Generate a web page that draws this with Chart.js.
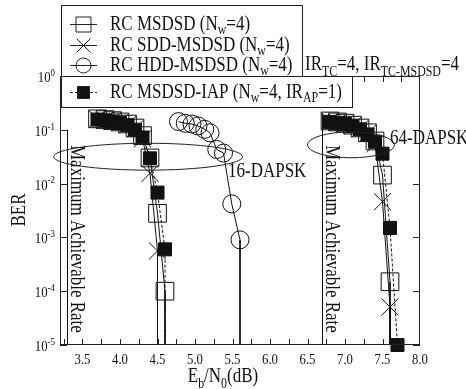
<!DOCTYPE html>
<html>
<head>
<meta charset="utf-8">
<script src="https://cdn.jsdelivr.net/npm/chart.js@4.4.1/dist/chart.umd.min.js"></script>
<style>
  html, body { margin: 0; padding: 0; background: #fff; }
  #wrap { width: 466px; height: 389px; }
</style>
</head>
<body>
<div id="wrap"><canvas id="berChart" width="466" height="389"></canvas></div>
<script>
// --- data ---
// 16-DAPSK
var ebn0_16      = [3.7, 3.8, 3.9, 4.0, 4.1, 4.2, 4.3, 4.4, 4.5, 4.6];
var ber_msdsd_16 = [0.16, 0.155, 0.148, 0.14, 0.128, 0.108, 0.078, 0.030, 0.0028, 0.0001];
var ebn0_sdd_16  = [3.7, 3.8, 3.9, 4.0, 4.1, 4.2, 4.3, 4.4, 4.5];
var ber_sdd_16   = [0.158, 0.152, 0.146, 0.137, 0.125, 0.105, 0.068, 0.0155, 0.00056];
var ber_iap_16   = [0.155, 0.15, 0.143, 0.135, 0.122, 0.10, 0.072, 0.0295, 0.0068, 0.0006];
var ebn0_hdd_16  = [4.78, 4.87, 4.96, 5.04, 5.13, 5.2, 5.29, 5.38, 5.49, 5.6];
var ber_hdd_16   = [0.142, 0.132, 0.128, 0.118, 0.102, 0.088, 0.043, 0.037, 0.0042, 0.0009];
// 64-DAPSK
var ebn0_64      = [6.8, 6.9, 7.0, 7.1, 7.2, 7.3, 7.4, 7.5, 7.6];
var ber_msdsd_64 = [0.146, 0.14, 0.133, 0.122, 0.108, 0.088, 0.062, 0.0144, 0.00015];
var ber_sdd_64   = [0.143, 0.137, 0.13, 0.119, 0.105, 0.085, 0.055, 0.0046, 0.000051];
var ebn0_iap_64  = [6.8, 6.9, 7.0, 7.1, 7.2, 7.3, 7.4, 7.5, 7.6, 7.7];
var ber_iap_64   = [0.14, 0.135, 0.128, 0.117, 0.102, 0.082, 0.06, 0.036, 0.0015, 0.00001];
// BER below the plotted floor (error free) -> curve falls straight down
var ERROR_FREE = 1e-7;
// maximum achievable rate limits
var maxRateEbn0 = [3.3, 6.7];
var maxRateTop  = [0.1, 0.2];
// axis ticks
var xTickLabels = ['3.5', '4.0', '4.5', '5.0', '5.5', '6.0', '6.5', '7.0', '7.5', '8.0'];
var yTickExps   = [0, -1, -2, -3, -4, -5];

var FONT = '"Liberation Serif", "Times New Roman", serif';
var SX = 0.85; // the original text is a bit narrow

function pts(xs, ys, errorFree) {
  var out = xs.map(function(x, i) { return { x: x, y: ys[i] }; });
  if (errorFree) out.push({ x: xs[xs.length - 1], y: ERROR_FREE });
  return out;
}

function ds(data, style, extra) {
  var base = {
    data: data,
    showLine: true,
    borderColor: '#111',
    borderWidth: 1,
    pointBorderColor: '#111',
    pointBorderWidth: 1,
    pointStyle: style.shape,
    pointRadius: function(c) { return c.raw && c.raw.y < 1e-5 * 0.99 ? 0 : style.r; },
    pointBackgroundColor: style.fill ? '#111' : 'rgba(0,0,0,0)',
    borderDash: style.dash || []
  };
  return Object.assign(base, extra || {});
}

var sq = { shape: 'rect', r: 12.5, fill: false };
var cr = { shape: 'crossRot', r: 12, fill: false };
var ci = { shape: 'circle', r: 9, fill: false };
var fs = { shape: 'rect', r: 9.2, fill: true, dash: [3, 2] };

var datasets = [
  ds(pts(ebn0_16, ber_iap_16, true), fs),
  ds(pts(ebn0_iap_64, ber_iap_64, false), fs, { clip: false }),
  ds(pts(ebn0_16, ber_msdsd_16, true), sq),
  ds(pts(ebn0_64, ber_msdsd_64, true), sq),
  ds(pts(ebn0_sdd_16, ber_sdd_16, true), cr),
  ds(pts(ebn0_64, ber_sdd_64, true), cr),
  ds(pts(ebn0_hdd_16, ber_hdd_16, true), ci)
];
maxRateEbn0.forEach(function(x, i) {
  datasets.push({
    data: [{ x: x, y: maxRateTop[i] }, { x: x, y: 1e-5 }],
    showLine: true, borderColor: '#111', borderWidth: 1, pointRadius: 0
  });
});

// text helpers
function drawRich(ctx, parts, x, y, size, align) {
  var w = 0;
  parts.forEach(function(p) {
    var s = p[1] ? size * 0.7 : size;
    ctx.font = s + 'px ' + FONT;
    p.w = ctx.measureText(p[0]).width * SX;
    w += p.w;
  });
  var cx = align === 'center' ? x - w / 2 : align === 'right' ? x - w : x;
  parts.forEach(function(p) {
    var s = p[1] ? size * 0.7 : size;
    var dy = p[1] === 'sub' ? size * 0.28 : p[1] === 'sup' ? -size * 0.42 : 0;
    ctx.font = s + 'px ' + FONT;
    ctx.save();
    ctx.translate(cx, y + dy);
    ctx.scale(SX, 1);
    ctx.fillText(p[0], 0, 0);
    ctx.restore();
    cx += p.w;
  });
}

function marker(ctx, shape, x, y, r, filled) {
  ctx.beginPath();
  if (shape === 'rect') {
    ctx.rect(x - r, y - r, 2 * r, 2 * r);
    if (filled) ctx.fill();
    ctx.stroke();
  } else if (shape === 'circle') {
    ctx.arc(x, y, r, 0, Math.PI * 2);
    ctx.stroke();
  } else {
    ctx.moveTo(x - r, y - r); ctx.lineTo(x + r, y + r);
    ctx.moveTo(x + r, y - r); ctx.lineTo(x - r, y + r);
    ctx.stroke();
  }
}

var decor = {
  id: 'decor',
  beforeDraw: function(chart) {
    var ctx = chart.ctx;
    ctx.save();
    ctx.fillStyle = '#fff';
    ctx.fillRect(0, 0, chart.width, chart.height);
    ctx.restore();
  },
  afterDraw: function(chart) {
    var ctx = chart.ctx, a = chart.chartArea;
    var xs = chart.scales.x, ys = chart.scales.y;
    ctx.save();
    ctx.strokeStyle = '#222';
    ctx.fillStyle = '#111';
    ctx.lineWidth = 1;

    // frame
    ctx.strokeRect(a.left + 0.5, a.top + 0.5, a.right - a.left - 1, a.bottom - a.top - 1);

    // x ticks every 0.25, inward on bottom and top
    ctx.beginPath();
    for (var v = 3.25; v < 8.0; v += 0.25) {
      var px = Math.round(xs.getPixelForValue(v)) + 0.5;
      ctx.moveTo(px, a.bottom); ctx.lineTo(px, a.bottom - 6);
      ctx.moveTo(px, a.top); ctx.lineTo(px, a.top + 6);
    }
    // y ticks on decades, left and right
    yTickExps.forEach(function(e) {
      var py = Math.round(ys.getPixelForValue(Math.pow(10, e))) + 0.5;
      ctx.moveTo(a.left, py); ctx.lineTo(a.left + 7, py);
      ctx.moveTo(a.right, py); ctx.lineTo(a.right - 7, py);
    });
    ctx.stroke();

    // tick labels
    xTickLabels.forEach(function(l) {
      drawRich(ctx, [[l]], xs.getPixelForValue(parseFloat(l)), a.bottom + 19, 15, 'center');
    });
    yTickExps.forEach(function(e) {
      var py = ys.getPixelForValue(Math.pow(10, e));
      drawRich(ctx, [['10'], [String(e), 'sup']], 55, py + 6, 15, 'right');
    });

    // axis titles
    drawRich(ctx, [['E'], ['b', 'sub'], ['/N'], ['0', 'sub'], ['(dB)']], 223, 382, 20, 'center');
    ctx.save();
    ctx.translate(25, 210);
    ctx.rotate(-Math.PI / 2);
    drawRich(ctx, [['BER']], 0, 0, 20, 'center');
    ctx.restore();

    // ellipses around the turbo cliffs (data units: centre x, log10 centre y, half widths)
    [[4.375, -1.5, 1.26, 0.25], [7.08, -1.28, 0.58, 0.24]].forEach(function(e) {
      var cx = xs.getPixelForValue(e[0]);
      var cy = ys.getPixelForValue(Math.pow(10, e[1]));
      var rx = xs.getPixelForValue(e[0] + e[2]) - cx;
      var ry = cy - ys.getPixelForValue(Math.pow(10, e[1] + e[3]));
      ctx.beginPath();
      ctx.ellipse(cx, cy, rx, ry, 0, 0, Math.PI * 2);
      ctx.stroke();
    });

    // annotations
    ctx.textBaseline = 'middle';
    drawRich(ctx, [['16-DAPSK']], xs.getPixelForValue(5.44), ys.getPixelForValue(Math.pow(10, -1.78)), 20, 'left');
    drawRich(ctx, [['64-DAPSK']], xs.getPixelForValue(7.6), ys.getPixelForValue(Math.pow(10, -1.17)), 20, 'left');
    ctx.textBaseline = 'alphabetic';
    drawRich(ctx, [['IR'], ['TC', 'sub'], ['=4, IR'], ['TC-MSDSD', 'sub'], ['=4']], 305, 70, 20, 'left');

    maxRateEbn0.forEach(function(x) {
      ctx.save();
      ctx.translate(xs.getPixelForValue(x) + 3, 145);
      ctx.rotate(Math.PI / 2);
      drawRich(ctx, [['Maximum Achievable Rate']], 0, 0, 20, 'left');
      ctx.restore();
    });

    // legend (two boxes)
    ctx.fillStyle = '#fff';
    ctx.fillRect(61, 5, 241, 71);
    ctx.fillRect(61, 76, 291, 31);
    ctx.strokeRect(61.5, 5.5, 241, 71);
    ctx.strokeRect(61.5, 76.5, 291, 31);
    ctx.fillStyle = '#111';
    var rows = [
      { y: 24, shape: 'rect', r: 7.5, parts: [['RC MSDSD (N'], ['w', 'sub'], ['=4)']] },
      { y: 45, shape: 'cross', r: 7, parts: [['RC SDD-MSDSD (N'], ['w', 'sub'], ['=4)']] },
      { y: 65, shape: 'circle', r: 7.5, parts: [['RC HDD-MSDSD (N'], ['w', 'sub'], ['=4)']] },
      { y: 92, shape: 'rect', r: 6, fill: true, dash: [3, 2],
        parts: [['RC MSDSD-IAP (N'], ['w', 'sub'], ['=4, IR'], ['AP', 'sub'], ['=1)']] }
    ];
    rows.forEach(function(r) {
      ctx.setLineDash(r.dash || []);
      ctx.beginPath();
      ctx.moveTo(70, r.y + 0.5); ctx.lineTo(97, r.y + 0.5);
      ctx.stroke();
      ctx.setLineDash([]);
      marker(ctx, r.shape, 83.5, r.y + 0.5, r.r, r.fill);
      ctx.textBaseline = 'middle';
      drawRich(ctx, r.parts, 110, r.y + 1, 20, 'left');
    });
    ctx.restore();
  }
};

var chart = new Chart(document.getElementById('berChart').getContext('2d'), {
  type: 'scatter',
  data: { datasets: datasets },
  options: {
    responsive: false,
    animation: false,
    layout: { padding: { left: 60, right: 46, top: 76, bottom: 44 } },
    plugins: { legend: { display: false }, tooltip: { enabled: false } },
    scales: {
      x: { type: 'linear', min: 3.2, max: 8.0, display: false },
      y: { type: 'logarithmic', min: 1e-5, max: 1, display: false }
    }
  },
  plugins: [decor]
});
</script>
</body>
</html>
